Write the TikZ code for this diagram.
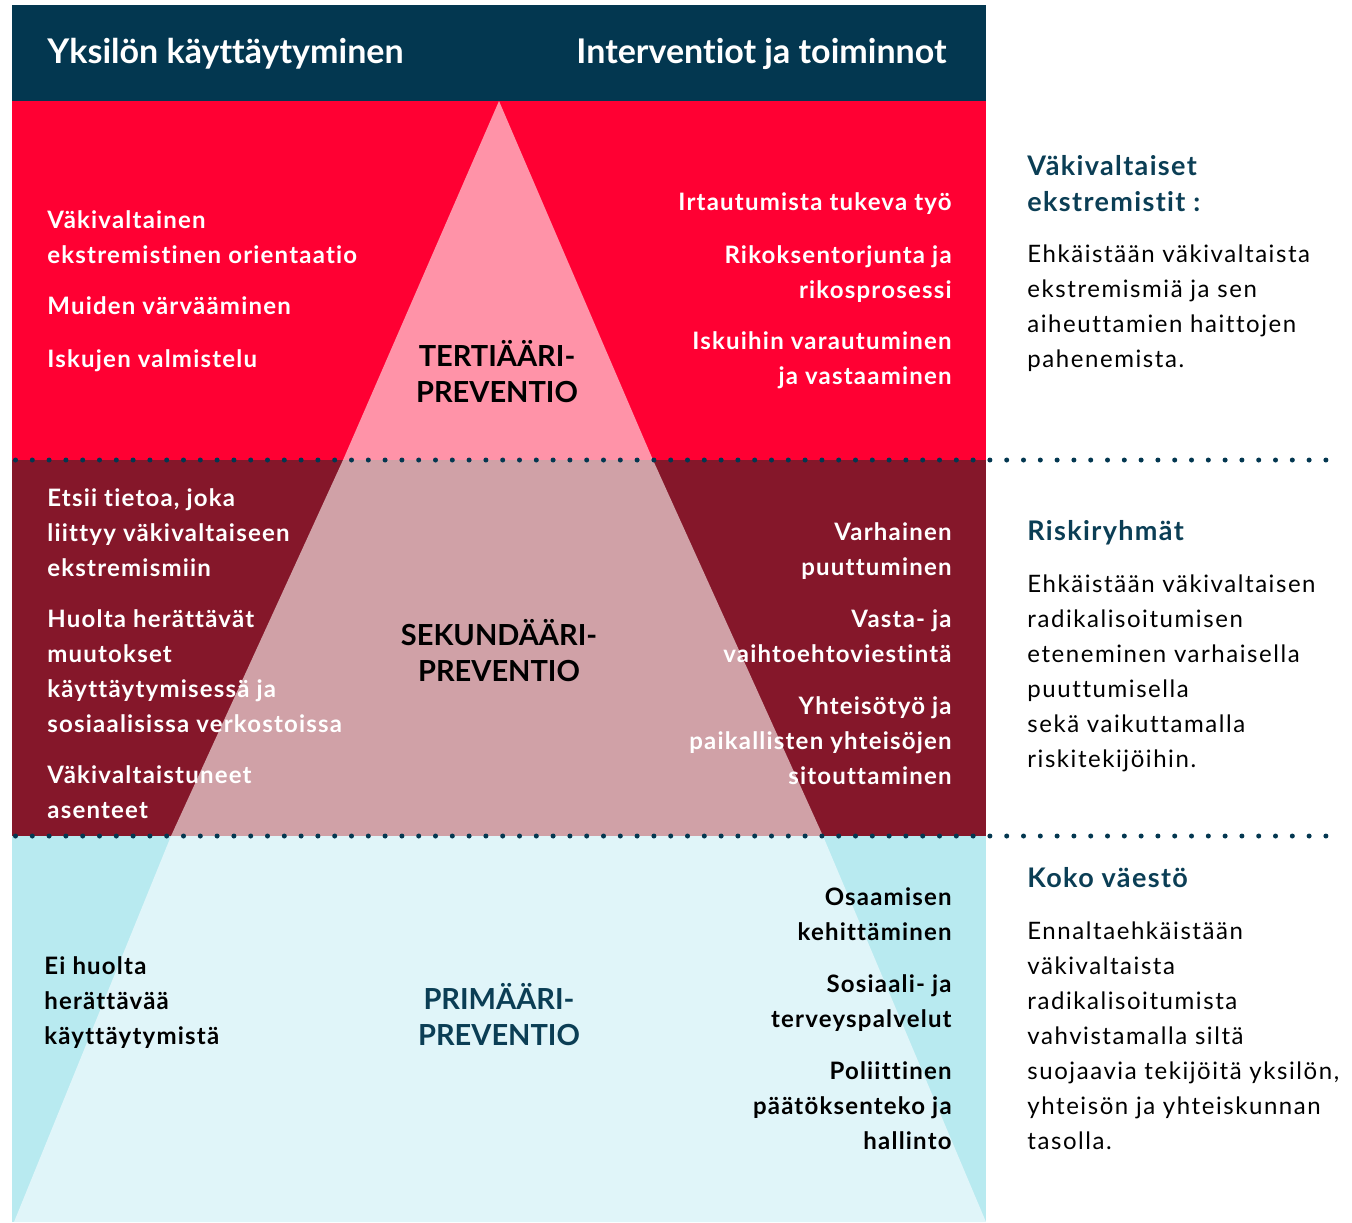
\documentclass[tikz,border=0pt]{standalone}
\usepackage{fontspec}
\setmainfont{Lato}[Ligatures=NoCommon]
\definecolor{hdrblue}{RGB}{3,55,80}
\definecolor{tertred}{RGB}{255,0,51}
\definecolor{tertpink}{RGB}{255,147,168}
\definecolor{sekred}{RGB}{133,23,42}
\definecolor{sekpink}{RGB}{208,161,167}
\definecolor{primcyan}{RGB}{184,234,240}
\definecolor{primlight}{RGB}{224,245,249}
\definecolor{navytext}{RGB}{11,62,85}
\tikzset{
  headtext/.style={inner sep=0pt, text=white, font=\bfseries\fontsize{17}{20}\selectfont},
  bodybold/.style={inner sep=0pt, align=left, font=\bfseries\fontsize{12}{17.5}\selectfont\addfontfeatures{LetterSpace=5}},
  lefttext/.style={bodybold, anchor=base west, text=white},
  righttext/.style={bodybold, anchor=base east, align=right, text=white},
  leveltext/.style={inner sep=0pt, anchor=base, align=center, font=\bfseries\fontsize{14.5}{18}\selectfont},
  sidehead/.style={inner sep=0pt, anchor=base west, align=left, text=navytext, font=\bfseries\fontsize{13.5}{18}\selectfont\addfontfeatures{LetterSpace=5}},
  sidetext/.style={inner sep=0pt, anchor=base west, align=left, font=\fontsize{12}{17.5}\selectfont\addfontfeatures{LetterSpace=6.5}}
}

\begin{document}
\begin{tikzpicture}[x=0.5pt,y=-0.5pt]
\useasboundingbox (0,0) rectangle (1352,1222);
% bands
\fill[hdrblue] (12,5) rectangle (986,101);
\fill[tertred] (12,101) rectangle (986,460);
\fill[sekred] (12,460) rectangle (986,836);
\fill[primcyan] (12,836) rectangle (986,1222);
% pyramid
\fill[tertpink] (499,101) -- (653,460) -- (343,460) -- cycle;
\fill[sekpink] (343,460) -- (653,460) -- (823,836) -- (171,836) -- cycle;
\fill[primlight] (171,836) -- (823,836) -- (986,1222) -- (14,1222) -- cycle;
% dotted lines
\foreach \y in {460,836}
  \draw[hdrblue, line width=2.5pt, line cap=round, dash pattern=on 0pt off 8.4pt] (15.5,\y) -- (1326,\y);

% header
\node[headtext, anchor=base west] (hleft) at (47,63) {Yksilön käyttäytyminen};
\node[headtext, anchor=base east] (hright) at (947,63) {Interventiot ja toiminnot};

% tertiary (base = last line)
\node[lefttext] (t1) at (47,263) {Väkivaltainen\\ekstremistinen orientaatio};
\node[lefttext] (t2) at (47,314) {Muiden värvääminen};
\node[lefttext] (t3) at (47,367) {Iskujen valmistelu};
\node[righttext] (t4) at (952,210) {Irtautumista tukeva työ};
\node[righttext] (t5) at (952,298) {Rikoksentorjunta ja\\rikosprosessi};
\node[righttext] (t6) at (952,384) {Iskuihin varautuminen\\ja vastaaminen};
\node[leveltext] (tert) at (497,402) {TERTIÄÄRI-\\PREVENTIO};

% secondary
\node[lefttext] (s1) at (47,576) {Etsii tietoa, joka\\liittyy väkivaltaiseen\\ekstremismiin};
\node[lefttext] (s2) at (47,732) {Huolta herättävät\\muutokset\\käyttäytymisessä ja\\sosiaalisissa verkostoissa};
\node[lefttext] (s3) at (47,818) {Väkivaltaistuneet\\asenteet};
\node[righttext] (s4) at (952,575) {Varhainen\\puuttuminen};
\node[righttext] (s5) at (952,662) {Vasta- ja\\vaihtoehtoviestintä};
\node[righttext] (s6) at (952,784) {Yhteisötyö ja\\paikallisten yhteisöjen\\sitouttaminen};
\node[leveltext] (sek) at (499,681) {SEKUNDÄÄRI-\\PREVENTIO};

% primary
\node[lefttext, text=black] (p1) at (44,1044) {Ei huolta\\herättävää\\käyttäytymistä};
\node[righttext, text=black] (p2) at (952,940) {Osaamisen\\kehittäminen};
\node[righttext, text=black] (p3) at (952,1027) {Sosiaali- ja\\terveyspalvelut};
\node[righttext, text=black] (p4) at (952,1149) {Poliittinen\\päätöksenteko ja\\hallinto};
\node[leveltext, text=navytext] (prim) at (499,1045) {PRIMÄÄRI-\\PREVENTIO};

% side column
\node[sidehead] (h1) at (1027,211) {Väkivaltaiset\\ekstremistit :};
\node[sidetext] (d1) at (1027,367) {Ehkäistään väkivaltaista\\ekstremismiä ja sen\\aiheuttamien haittojen\\pahenemista.};
\node[sidehead] (h2) at (1027,540) {Riskiryhmät};
\node[sidetext] (d2) at (1027,767) {Ehkäistään väkivaltaisen\\radikalisoitumisen\\eteneminen varhaisella\\puuttumisella\\sekä vaikuttamalla\\riskitekijöihin.};
\node[sidehead] (h3) at (1027,887) {Koko väestö};
\node[sidetext] (d3) at (1027,1149) {Ennaltaehkäistään\\väkivaltaista\\radikalisoitumista\\vahvistamalla siltä\\suojaavia tekijöitä yksilön,\\yhteisön ja yhteiskunnan\\tasolla.};
\end{tikzpicture}
\end{document}
